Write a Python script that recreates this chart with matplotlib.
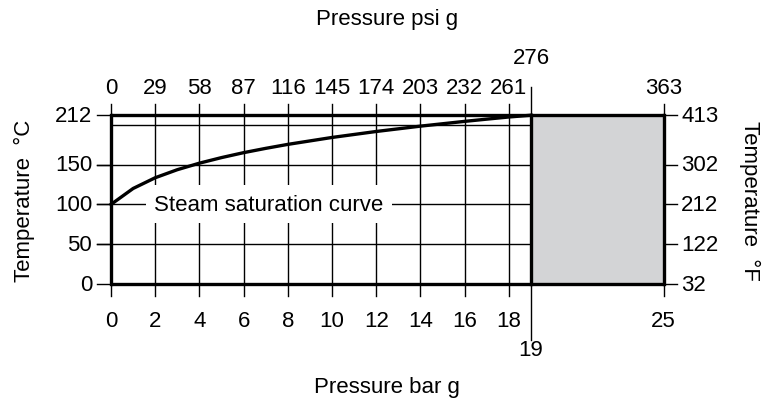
import matplotlib
matplotlib.use("Agg")
import matplotlib.pyplot as plt
import numpy as np

plt.rcParams['font.family'] = ['Liberation Sans', 'DejaVu Sans']

# Steam saturation curve (bar g vs deg C)
curve_bar = [0, 1, 2, 3, 4, 5, 6, 7, 8, 10, 12, 14, 16, 17, 18, 19]
curve_temp = [100, 120, 133.5, 143.6, 151.8, 158.8, 165, 170.4, 175.4, 184.1, 191.6, 198.3, 204.3, 207.1, 209.8, 212]

bar_ticks = [0, 2, 4, 6, 8, 10, 12, 14, 16, 18]
psi_labels = ["0", "29", "58", "87", "116", "145", "174", "203", "232", "261"]
degc_ticks = [0, 50, 100, 150, 212]
degf_labels = ["32", "122", "212", "302", "413"]
grid_temps = [50, 100, 150, 200]

x_max_sat = 19
x_max = 25
y_max = 212

fig = plt.figure(figsize=(7.63, 4.06), dpi=100)
ax = fig.add_axes([0.1455, 0.298, 0.7242, 0.4157])
ax.set_xlim(0, x_max)
ax.set_ylim(0, y_max)
ax.axis("off")

thin = 1.0
thick = 2.4
fs = 16

# Gray area beyond saturation limit
ax.fill_between([x_max_sat, x_max], 0, y_max, color="#d3d4d6", zorder=1)

# Vertical grid lines with tick extensions
for x in bar_ticks:
    ax.plot([x, x], [-15, y_max + 14], color="black", lw=thin, clip_on=False, zorder=2)
ax.plot([x_max_sat, x_max_sat], [-70, y_max + 35], color="black", lw=thin, clip_on=False, zorder=2)
ax.plot([x_max, x_max], [-15, y_max + 14], color="black", lw=thin, clip_on=False, zorder=2)

# Horizontal grid lines
for y in grid_temps:
    ax.plot([-0.65 if y != 200 else 0, x_max_sat], [y, y], color="black", lw=thin, clip_on=False, zorder=2)
for y in degc_ticks:
    ax.plot([-0.65, 0], [y, y], color="black", lw=thin, clip_on=False, zorder=2)
    ax.plot([x_max, x_max + 0.6], [y, y], color="black", lw=thin, clip_on=False, zorder=2)

# Thick frame
ax.plot([0, x_max], [0, 0], color="black", lw=thick, clip_on=False, zorder=4, solid_capstyle="butt")
ax.plot([0, x_max], [y_max, y_max], color="black", lw=thick, clip_on=False, zorder=4, solid_capstyle="butt")
for x in [0, x_max_sat, x_max]:
    ax.plot([x, x], [0, y_max], color="black", lw=thick, clip_on=False, zorder=4)

# Saturation curve
ax.plot(curve_bar, curve_temp, color="black", lw=thick, zorder=4, clip_on=False)

ax.text(1.95, 100, "Steam saturation curve", fontsize=fs, ha="left", va="center",
        zorder=5, bbox=dict(facecolor="white", edgecolor="none", pad=6))

# Axis labels
for x, lab in zip(bar_ticks, psi_labels):
    ax.text(x, 247, lab, fontsize=fs, ha="center", va="center")
    ax.text(x, -46, str(x), fontsize=fs, ha="center", va="center")
ax.text(x_max_sat, 285, "276", fontsize=fs, ha="center", va="center")
ax.text(x_max, 247, "363", fontsize=fs, ha="center", va="center")
ax.text(x_max_sat, -82, "19", fontsize=fs, ha="center", va="center")
ax.text(x_max, -46, "25", fontsize=fs, ha="center", va="center")

for y, lab in zip(degc_ticks, degf_labels):
    ax.text(-0.85, y, str(y), fontsize=fs, ha="right", va="center")
    ax.text(x_max + 0.8, y, lab, fontsize=fs, ha="left", va="center")

ax.text(12.5, 334, "Pressure psi g", fontsize=fs, ha="center", va="center")
ax.text(12.5, -129, "Pressure bar g", fontsize=fs, ha="center", va="center")
ax.text(-3.9, 106, "Temperature  °C", fontsize=fs, ha="center", va="center", rotation=90)
ax.text(28.9, 106, "Temperature  °F", fontsize=fs, ha="center", va="center", rotation=-90)

fig.savefig("out.png", dpi=100)
